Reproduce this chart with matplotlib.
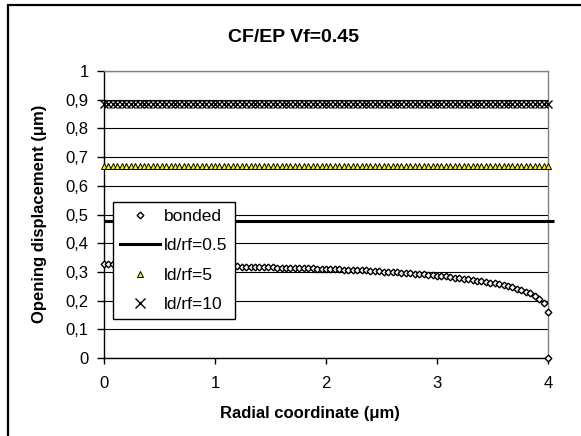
import numpy as np
import matplotlib
matplotlib.use("Agg")
import matplotlib.pyplot as plt
from matplotlib.patches import Rectangle
from matplotlib.lines import Line2D

plt.rcParams['font.family'] = ['Liberation Sans', 'DejaVu Sans']

# Radial sampling positions (um)
radial = np.arange(0, 4.0001, 0.04)

# Opening displacement for the bonded interface (um)
bonded = [
    0.326, 0.326, 0.326, 0.326, 0.325, 0.325, 0.325, 0.325, 0.325, 0.324, 0.324,
    0.324, 0.324, 0.324, 0.323, 0.323, 0.323, 0.323, 0.322, 0.322, 0.322, 0.322,
    0.321, 0.321, 0.321, 0.320,
    0.320, 0.320, 0.319, 0.319, 0.319, 0.318, 0.318, 0.318, 0.317, 0.317, 0.317,
    0.316, 0.316, 0.315, 0.315, 0.315, 0.314, 0.314, 0.313, 0.313, 0.312, 0.312,
    0.311, 0.311, 0.310,
    0.310, 0.309, 0.309, 0.308, 0.307, 0.307, 0.306, 0.305, 0.305, 0.304, 0.303,
    0.302, 0.301, 0.300, 0.299, 0.298, 0.297, 0.296, 0.295, 0.294, 0.293, 0.291,
    0.290, 0.288, 0.287,
    0.285, 0.284, 0.282, 0.280, 0.278, 0.276, 0.274, 0.272, 0.270, 0.268, 0.265,
    0.263, 0.260, 0.257, 0.254, 0.250, 0.246, 0.242, 0.237, 0.231, 0.225, 0.217,
    0.207, 0.192, 0.162,
]
bonded_tip_x = [4.0]
bonded_tip_y = [0.0]

# Debonded cases: constant opening displacement
ld05_x = [0.0, 4.05]
ld05_y = [0.477, 0.477]
ld5_value = 0.67
ld10_value = 0.885

y_ticks = [0.0, 0.1, 0.2, 0.3, 0.4, 0.5, 0.6, 0.7, 0.8, 0.9, 1.0]
y_tick_labels = ["0", "0,1", "0,2", "0,3", "0,4", "0,5", "0,6", "0,7", "0,8", "0,9", "1"]
x_ticks = [0, 1, 2, 3, 4]

W, H = 581, 436
fig = plt.figure(figsize=(W / 100, H / 100), dpi=100)
fig.patch.set_facecolor("white")

# Chart-area border
fig.patches.append(Rectangle((8 / W, -0.1), 1.2, 1 - 5 / H + 0.1,
                             transform=fig.transFigure, fill=False,
                             edgecolor="black", linewidth=1.6))

ax = fig.add_axes([104 / W, 1 - 358 / H, 444 / W, 287 / H])
ax.set_xlim(0, 4)
ax.set_ylim(0, 1)

for yv in y_ticks:
    ax.axhline(yv, color="black", linewidth=0.8, zorder=1)

ax.plot(radial, [ld10_value] * len(radial), linestyle="none", marker="x",
        color="black", markersize=5.5, markeredgewidth=1.0, clip_on=False, zorder=3)
ax.plot(radial, [ld5_value] * len(radial), linestyle="none", marker="^",
        markerfacecolor="#f2f200", markeredgecolor="black", markersize=4.2,
        markeredgewidth=0.7, clip_on=False, zorder=3)
ax.plot(ld05_x, ld05_y, color="black", linewidth=2.2, clip_on=False,
        solid_capstyle="butt", zorder=3)
ax.plot(radial, bonded, linestyle="none", marker="D", markerfacecolor="white",
        markeredgecolor="black", markersize=3.4, markeredgewidth=1.0,
        clip_on=False, zorder=4)
ax.plot(bonded_tip_x, bonded_tip_y, linestyle="none", marker="D",
        markerfacecolor="white", markeredgecolor="black", markersize=3.4,
        markeredgewidth=1.0, clip_on=False, zorder=4)

ax.set_yticks(y_ticks)
ax.set_yticklabels(y_tick_labels)
ax.set_xticks(x_ticks)
ax.tick_params(axis="y", direction="out", length=5, width=1, pad=6, labelsize=12)
ax.tick_params(axis="x", direction="out", length=4, width=1, pad=9, labelsize=12)

for side in ("top", "right"):
    ax.spines[side].set_color("#808080")
    ax.spines[side].set_linewidth(1.0)
for side in ("left", "bottom"):
    ax.spines[side].set_color("black")
    ax.spines[side].set_linewidth(1.0)

handles = [
    Line2D([], [], linestyle="none", marker="D", markerfacecolor="white",
           markeredgecolor="black", markersize=3.4, markeredgewidth=1.0),
    Line2D([], [], color="black", linewidth=2.2),
    Line2D([], [], linestyle="none", marker="^", markerfacecolor="#f2f200",
           markeredgecolor="black", markersize=4.2, markeredgewidth=0.7),
    Line2D([], [], linestyle="none", marker="x", color="black",
           markersize=7, markeredgewidth=1.0),
]
labels = ["bonded", "ld/rf=0.5", "ld/rf=5", "ld/rf=10"]
leg = ax.legend(handles, labels, loc="upper left", bbox_to_anchor=(0.02, 0.544),
                borderaxespad=0, fontsize=12.5, frameon=True, fancybox=False,
                edgecolor="black", framealpha=1, handlelength=2.3,
                handletextpad=0.25, labelspacing=0.82, borderpad=0.4)
leg.get_frame().set_linewidth(1.0)
leg.set_zorder(5)

fig.text(293 / W, 1 - 37 / H, "CF/EP Vf=0.45", ha="center", va="center",
         fontsize=14, fontweight="bold")
fig.text(310 / W, 1 - 413 / H, "Radial coordinate (\u03bcm)", ha="center",
         va="center", fontsize=12, fontweight="bold")
fig.text(40 / W, 1 - 214 / H, "Opening displacement (\u03bcm)", ha="center",
         va="center", rotation=90, fontsize=12, fontweight="bold")

fig.savefig("out.png", dpi=100, facecolor="white")
